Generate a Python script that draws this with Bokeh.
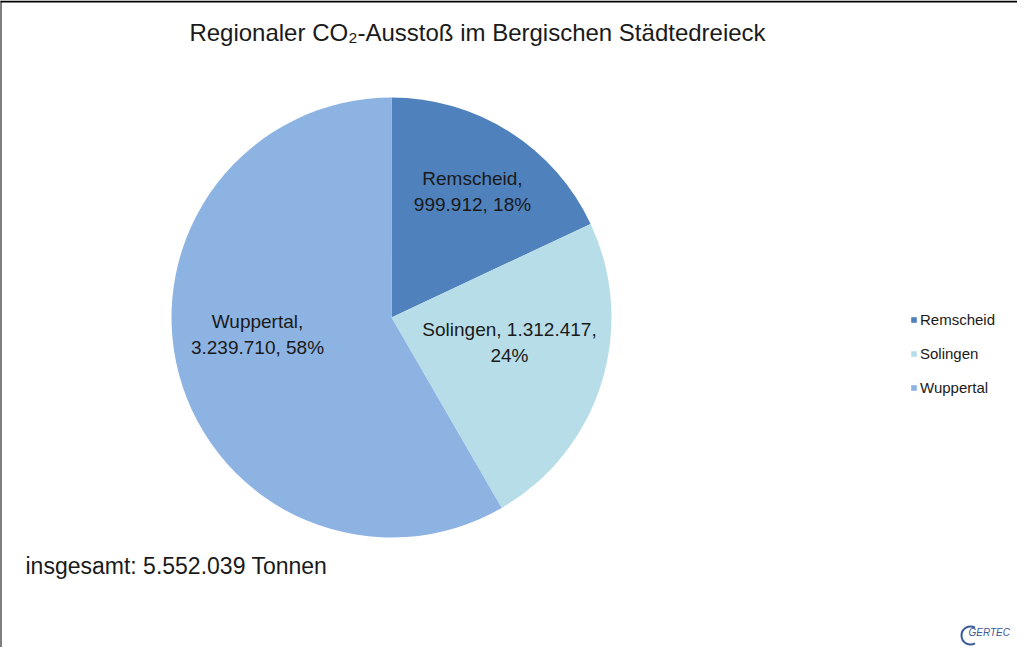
import math
from bokeh.plotting import figure
from bokeh.models import Range1d, ColumnDataSource, Legend, LegendItem
from bokeh.core.properties import value
from bokeh.embed import file_html
from bokeh.resources import INLINE

# ---- data ----
cities = ["Remscheid", "Solingen", "Wuppertal"]
emissions = [999912, 1312417, 3239710]
colors = ["#4F81BD", "#B7DEE8", "#8DB3E2"]
title_text = "Regionaler CO\u2082-Ausstoß im Bergischen Städtedreieck"
total_label = "insgesamt: 5.552.039 Tonnen"

# ---- layout ----
W, H = 1017, 647
CX, CY, R = 391, 330, 220
label_offsets = [(81, 126), (118, -25), (-134, -17)]
FONT = "Liberation Sans"

def de(n):
    return f"{n:,}".replace(",", ".")

total = sum(emissions)
starts, ends, labels, lx, ly = [], [], [], [], []
cum = 0.0
for i, v in enumerate(emissions):
    a0 = math.pi / 2 - 2 * math.pi * cum / total
    cum += v
    a1 = math.pi / 2 - 2 * math.pi * cum / total
    starts.append(a0)
    ends.append(a1)
    pct = round(100 * v / total)
    if i == 1:
        labels.append(f"{cities[i]}, {de(v)},\n{pct}%")
    else:
        labels.append(f"{cities[i]},\n{de(v)}, {pct}%")
    lx.append(CX + label_offsets[i][0])
    ly.append(CY + label_offsets[i][1])

src = ColumnDataSource(dict(city=cities, val=emissions, color=colors,
                            start=starts, end=ends, label=labels, lx=lx, ly=ly))

p = figure(width=W, height=H, x_range=Range1d(0, W), y_range=Range1d(0, H),
           output_backend="svg", toolbar_location=None, min_border=0,
           x_axis_location=None, y_axis_location=None)
p.grid.visible = False
p.outline_line_color = None
p.background_fill_color = "white"
p.border_fill_color = "white"

# frame lines (top and left)
p.segment(x0=[0, 0], y0=[H - 1, 0], x1=[W, 0], y1=[H - 1, H], line_color="black", line_width=2)

wedges = p.wedge(x=CX, y=CY, radius=R, start_angle="start", end_angle="end",
                 direction="clock", fill_color="color", line_color=None, source=src)

p.text(x="lx", y="ly", text="label", source=src, text_align="center",
       text_baseline="middle", text_font=value(FONT), text_font_size="19px",
       text_color="#1a1a1a", text_line_height=1.22)

# title
p.text(x=[477], y=[H - 32], text=[title_text], text_align="center",
       text_baseline="middle", text_font=value(FONT), text_font_size="24px",
       text_color="#1a1a1a")

# total
p.text(x=[25], y=[H - 565], text=[total_label], text_align="left",
       text_baseline="middle", text_font=value(FONT), text_font_size="23px",
       text_color="#1a1a1a")

# logo
p.text(x=[968], y=[H - 632], text=["GERTEC"], text_align="left",
       text_baseline="middle", text_font=value(FONT), text_font_size="10px",
       text_color="#3a5a9a", text_font_style="italic")
p.arc(x=[970], y=[H - 635], radius=9, start_angle=math.radians(60),
      end_angle=math.radians(300), line_color="#3a5a9a", line_width=2)

legend = Legend(items=[LegendItem(label=c, renderers=[wedges], index=i) for i, c in enumerate(cities)],
                location=(910, 250), glyph_width=7, glyph_height=7, label_height=20,
                spacing=14, padding=0, margin=0, label_standoff=3,
                label_text_font=FONT, label_text_font_size="15px",
                label_text_color="#1a1a1a", border_line_color=None,
                background_fill_alpha=0)
p.add_layout(legend, "center")

open("out.html", "w").write(file_html(p, INLINE))
